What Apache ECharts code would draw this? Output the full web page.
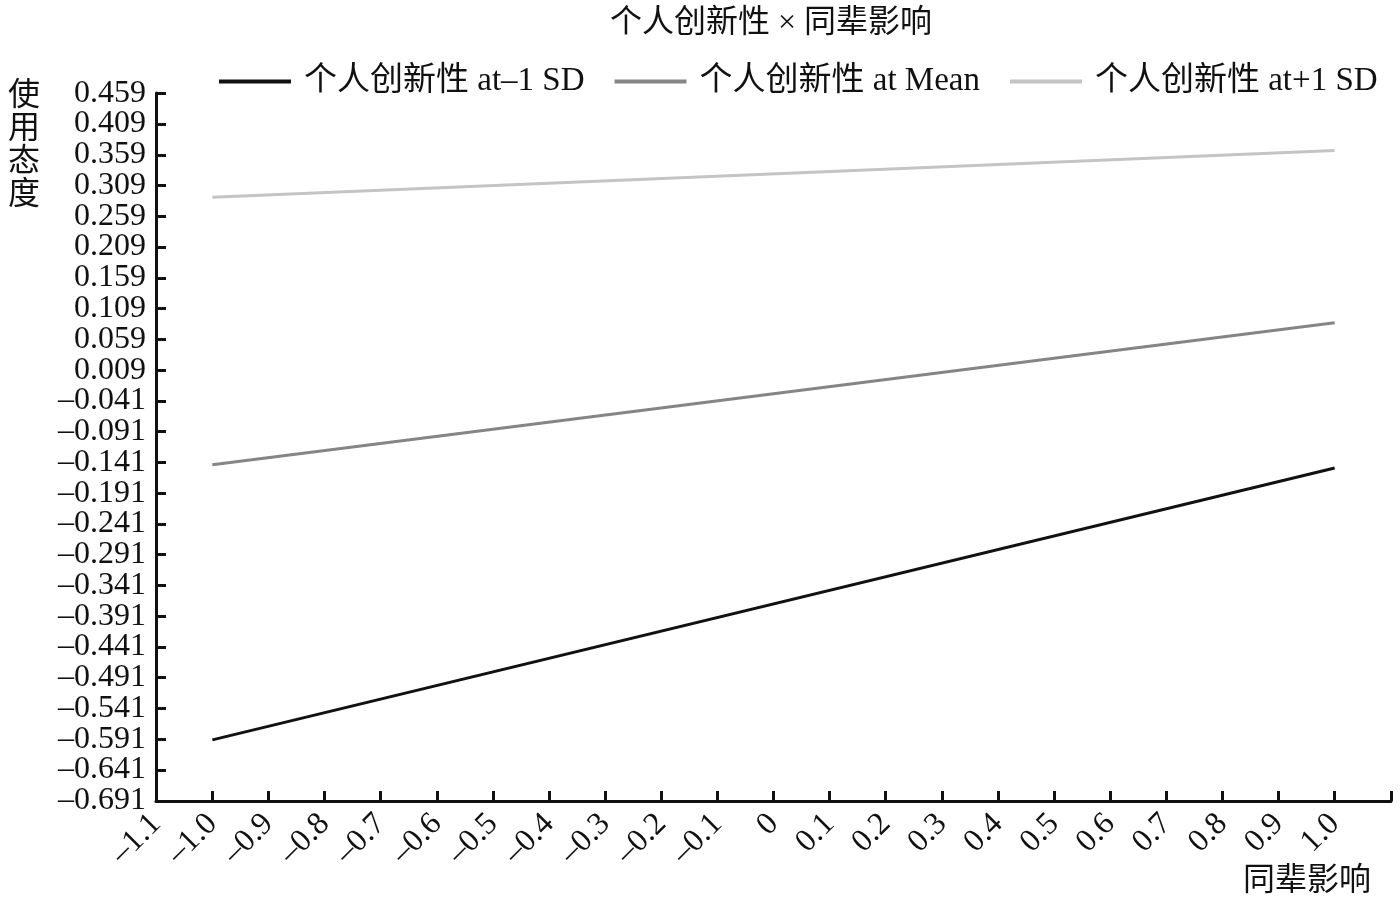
<!DOCTYPE html>
<html>
<head>
<meta charset="utf-8">
<script src="https://cdn.jsdelivr.net/npm/echarts@6/dist/echarts.min.js"></script>
<style>html,body{margin:0;padding:0;background:#fff}#c{width:1400px;height:907px}</style>
</head>
<body>
<div id="c"></div>
<script>
const titleText = '个人创新性 \u00d7 同辈影响';
const xName = '同辈影响';
const yName = '使用态度';
const seriesNames = ['个人创新性 at\u20131 SD', '个人创新性 at Mean', '个人创新性 at+1 SD'];
const xValues = [-1.0, 1.0];
const lowSD = [-0.592, -0.150];
const meanV = [-0.145, 0.086];
const highSD = [0.290, 0.366];
const yTicks = [-0.691, -0.641, -0.591, -0.541, -0.491, -0.441, -0.391, -0.341, -0.291, -0.241,
  -0.191, -0.141, -0.091, -0.041, 0.009, 0.059, 0.109, 0.159, 0.209, 0.259, 0.309, 0.359, 0.409, 0.459];
const xTicks = [-1.1, -1.0, -0.9, -0.8, -0.7, -0.6, -0.5, -0.4, -0.3, -0.2, -0.1, 0,
  0.1, 0.2, 0.3, 0.4, 0.5, 0.6, 0.7, 0.8, 0.9, 1.0, 1.1];
const xLabelTicks = xTicks.slice(0, xTicks.length - 1);
const yNearEnds = [yTicks[1], yTicks[yTicks.length - 2]];

const FONT = '"Liberation Serif", "Noto Sans CJK SC", serif';
const colors = ['#111111', '#858585', '#c4c4c4'];
const vals = [lowSD, meanV, highSD];
const PAD = 0.0004;
const Y_MIN = yTicks[0] - PAD, Y_MAX = yTicks[yTicks.length - 1] + PAD;

const chart = echarts.init(document.getElementById('c'));
function fmtNum(v, d) {
  let s = Math.abs(v) < 1e-9 ? '0' : v.toFixed(d);
  if (s.startsWith('-')) s = '\u2013' + s.slice(1);
  return s;
}
const yLabelBase = {
  margin: 10, fontFamily: FONT, fontSize: 32, lineHeight: 24, color: '#111',
  hideOverlap: false, formatter: v => fmtNum(v, 3)
};
chart.setOption({
  backgroundColor: '#fff',
  animation: false,
  title: {
    text: titleText, left: 605, top: 3,
    textStyle: {fontFamily: FONT, fontSize: 32, fontWeight: 'normal', color: '#111'}
  },
  legend: {
    top: 60, left: 214, itemWidth: 72, itemHeight: 4, itemGap: 30,
    icon: 'rect',
    textStyle: {fontFamily: FONT, fontSize: 33, color: '#111', padding: [0, 0, 0, 8]},
    data: seriesNames.map((n, i) => ({name: n, itemStyle: {color: colors[i]}}))
  },
  grid: {left: 156, right: 9, top: 93, bottom: 106, containLabel: false},
  xAxis: {
    type: 'value', min: xTicks[0] - PAD, max: xTicks[xTicks.length - 1] + PAD,
    splitLine: {show: false},
    axisLine: {onZero: false, lineStyle: {color: '#111', width: 3}},
    axisTick: {inside: true, length: 10, customValues: xTicks, lineStyle: {width: 3, color: '#111'}},
    axisLabel: {
      rotate: 45, margin: 18, fontFamily: FONT, fontSize: 32, color: '#111',
      customValues: xLabelTicks, hideOverlap: false,
      formatter: v => fmtNum(v, 1)
    }
  },
  yAxis: [{
    type: 'value', min: Y_MIN, max: Y_MAX, position: 'left',
    splitLine: {show: false},
    axisLine: {onZero: false, lineStyle: {color: '#111', width: 3}},
    axisTick: {inside: true, length: 10, customValues: yTicks, lineStyle: {width: 3, color: '#111'}},
    axisLabel: Object.assign({customValues: yTicks, showMinLabel: true, showMaxLabel: true}, yLabelBase)
  }, {
    type: 'value', min: Y_MIN, max: Y_MAX, position: 'left', offset: 0,
    splitLine: {show: false},
    axisLine: {show: false, onZero: false},
    axisTick: {show: true, inside: true, length: 10, customValues: yNearEnds, lineStyle: {width: 3, color: '#111'}},
    axisLabel: Object.assign({customValues: yNearEnds}, yLabelBase)
  }],
  graphic: [{
    type: 'text', left: 8, top: 80,
    style: {text: yName.split('').join('\n'), font: '32px ' + FONT, fill: '#111', lineHeight: 33}
  }, {
    type: 'text', left: 1243, top: 866,
    style: {text: xName, font: '32px ' + FONT, fill: '#111'}
  }],
  series: vals.map((arr, i) => ({
    name: seriesNames[i], type: 'line', symbol: 'none', yAxisIndex: 0,
    lineStyle: {color: colors[i], width: 3},
    itemStyle: {color: colors[i]},
    data: xValues.map((x, j) => [x, arr[j]])
  }))
});
</script>
</body>
</html>
